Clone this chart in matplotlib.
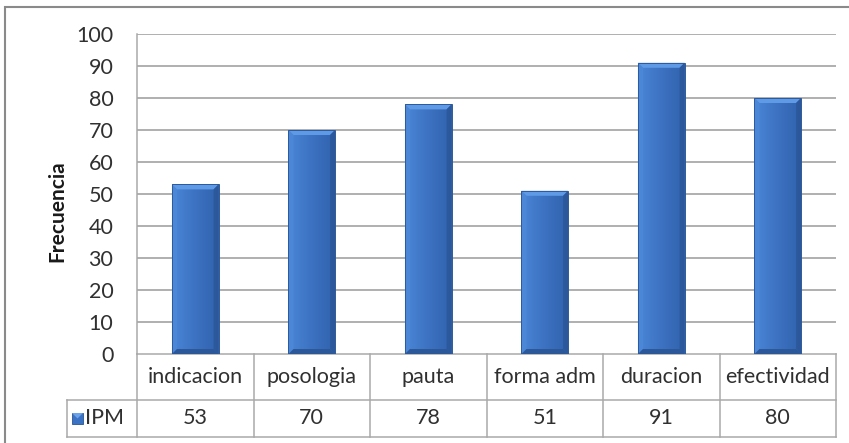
import numpy as np
import matplotlib
matplotlib.use("Agg")
import matplotlib.pyplot as plt
from matplotlib.patches import Rectangle, Polygon
from matplotlib.colors import to_rgb

categories = ["indicacion", "posologia", "pauta", "forma adm", "duracion", "efectividad"]
values = [53, 70, 78, 51, 91, 80]
series_name = "IPM"
y_ticks = [0, 10, 20, 30, 40, 50, 60, 70, 80, 90, 100]
y_label = "Frecuencia"

plt.rcParams["font.family"] = ["Lato", "DejaVu Sans"]

W, H = 849, 443
fig = plt.figure(figsize=(W / 100, H / 100), dpi=100)
fig.patch.set_facecolor("white")

# plot area in pixel units
px_left, px_right, px_top, px_bottom = 137, 836, 34, 354
ax = fig.add_axes([px_left / W, 1 - px_bottom / H,
                   (px_right - px_left) / W, (px_bottom - px_top) / H])
ax.set_facecolor("white")

grid_c = "#a9a9a9"
txt_c = "#303030"
fs = 15.5
n = len(categories)
ax.set_xlim(-0.5, n - 0.5)
ax.set_ylim(0, 100)
ax.set_yticks(y_ticks)
ax.set_yticklabels([str(t) for t in y_ticks], fontsize=fs, color=txt_c)
ax.tick_params(axis="y", length=0, pad=17)
ax.set_xticks([])
for s in ["top", "right", "bottom"]:
    ax.spines[s].set_visible(False)
ax.spines["left"].set_color(grid_c)
ax.spines["left"].set_linewidth(1.1)
for t in y_ticks[1:]:
    ax.axhline(t, color=grid_c, lw=1.3, zorder=1)

# bevelled bars
bar_w = 0.40
px_per_x = (px_right - px_left) / n
px_per_y = (px_bottom - px_top) / 100.0
bx = 5.0 / px_per_x
by = 5.0 / px_per_y

c_left = np.array(to_rgb("#4a86d6"))
c_mid = np.array(to_rgb("#3d72c2"))
c_right = np.array(to_rgb("#3063ae"))
grad_t = np.linspace(0, 1, 64)
grad = np.zeros((1, 64, 3))
for k, t in enumerate(grad_t):
    if t < 0.5:
        grad[0, k] = c_left + (c_mid - c_left) * (t / 0.5)
    else:
        grad[0, k] = c_mid + (c_right - c_mid) * ((t - 0.5) / 0.5)

for i, v in enumerate(values):
    x0, x1 = i - bar_w / 2, i + bar_w / 2
    im = ax.imshow(grad, extent=(x0, x1, 0, v), aspect="auto",
                   interpolation="bilinear", zorder=3)
    clip = Rectangle((x0, 0), bar_w, v, transform=ax.transData)
    im.set_clip_path(clip)
    # top bevel (light)
    ax.add_patch(Polygon([(x0, v), (x1, v), (x1 - bx, v - by), (x0 + bx, v - by)],
                         closed=True, facecolor="#5e9ae5", edgecolor="none", zorder=4))
    # left bevel
    ax.add_patch(Polygon([(x0, v), (x0 + bx, v - by), (x0 + bx, by), (x0, 0)],
                         closed=True, facecolor="#4d89d8", edgecolor="none", zorder=4, alpha=0.8))
    # right bevel (dark)
    ax.add_patch(Polygon([(x1, v), (x1 - bx, v - by), (x1 - bx, by), (x1, 0)],
                         closed=True, facecolor="#2b5595", edgecolor="none", zorder=4, alpha=0.75))
    # bottom bevel (dark)
    ax.add_patch(Polygon([(x0, 0), (x1, 0), (x1 - bx, by), (x0 + bx, by)],
                         closed=True, facecolor="#2c5899", edgecolor="none", zorder=4))
    ax.add_patch(Rectangle((x0, 0), bar_w, v, facecolor="none",
                           edgecolor="#2d5a9c", lw=0.7, zorder=5))

ax.set_xlim(-0.5, n - 0.5)
ax.set_ylim(0, 100)

# data table below the plot area
tr = ax.transAxes
ph = px_bottom - px_top
row1 = -46.0 / ph
row2 = -83.0 / ph
x_leg = (67 - px_left) / (px_right - px_left)
line_kw = dict(color=grid_c, lw=1.1, transform=tr, clip_on=False, zorder=2)
ax.plot([0, 1], [0, 0], **line_kw)
ax.plot([x_leg, 1], [row1, row1], **line_kw)
ax.plot([x_leg, 1], [row2, row2], **line_kw)
ax.plot([x_leg, x_leg], [row1, row2], **line_kw)
for j in range(n + 1):
    ax.plot([j / n, j / n], [0, row2], **line_kw)

for j, (c, v) in enumerate(zip(categories, values)):
    xc = (j + 0.5) / n
    ax.text(xc, row1 / 2, c, transform=tr, ha="center", va="center",
            fontsize=fs, color=txt_c)
    ax.text(xc, (row1 + row2) / 2, str(v), transform=tr, ha="center",
            va="center", fontsize=fs, color=txt_c)

# legend key inside the table
kx0 = (72 - px_left) / (px_right - px_left)
kx1 = (83 - px_left) / (px_right - px_left)
ky0 = (px_bottom - 424) / ph
ky1 = (px_bottom - 413) / ph
ax.add_patch(Rectangle((kx0, ky0), kx1 - kx0, ky1 - ky0, transform=tr,
                       facecolor="#3a72c4", edgecolor="#2a5594", lw=0.6,
                       clip_on=False, zorder=3))
ax.add_patch(Polygon([(kx0, ky1), (kx1, ky1), ((kx0 + kx1) / 2, (ky0 + ky1) / 2)],
                     closed=True, transform=tr, facecolor="#6aa3ea",
                     edgecolor="none", clip_on=False, zorder=4))
ax.text((85 - px_left) / (px_right - px_left), (row1 + row2) / 2, series_name,
        transform=tr, ha="left", va="center", fontsize=fs, color=txt_c)

# axis title
fig.text(57 / W, 1 - 211 / H, y_label, rotation=90, ha="center", va="center",
         fontsize=15, fontweight="bold", color="#1a1a1a")

# outer chart frame
fig.add_artist(Rectangle((5 / W, -0.05), 1.1, 1 - 7 / H + 0.05,
                         transform=fig.transFigure, facecolor="none",
                         edgecolor="#8a8a8a", lw=1.5))

fig.savefig("out.png", dpi=100)
